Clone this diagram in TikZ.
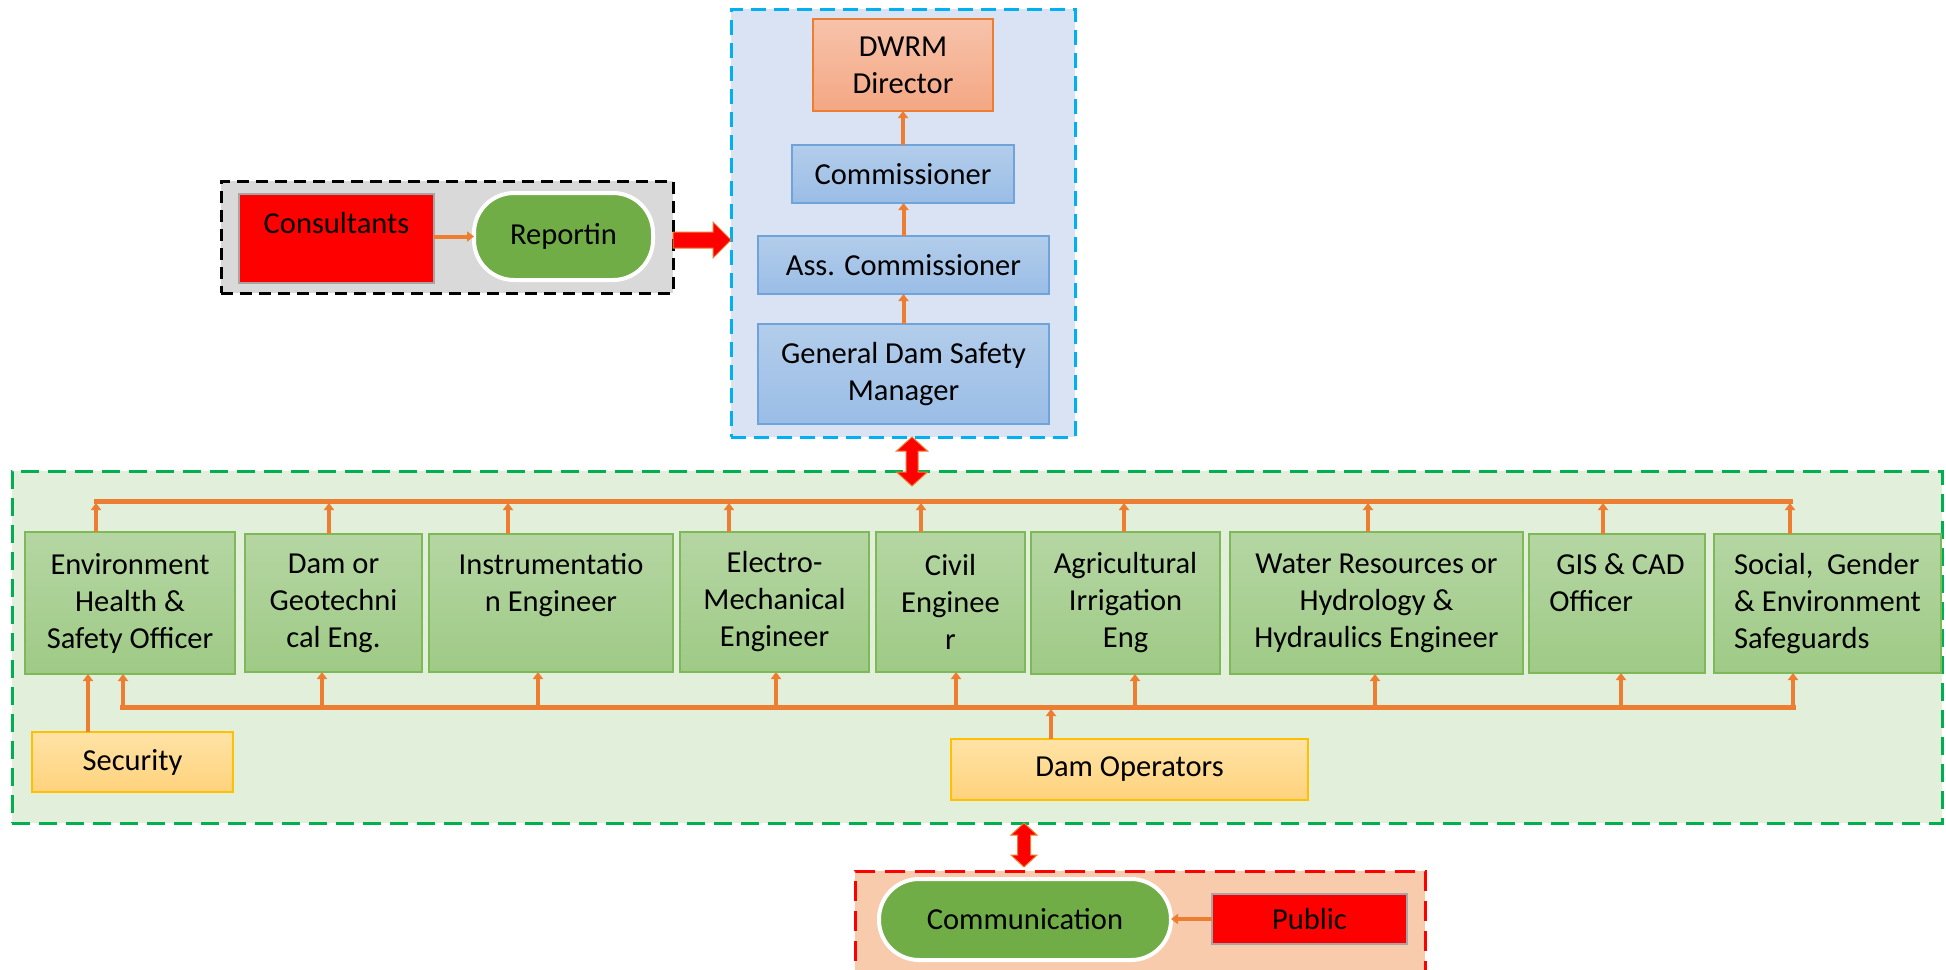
\documentclass[tikz,border=0pt]{standalone}
\usepackage{fontspec}
\setmainfont{Carlito}
\usetikzlibrary{arrows.meta,calc}
\definecolor{orng}{HTML}{ED7D31}
\definecolor{grnfill}{HTML}{E2EFDA}
\definecolor{grndash}{HTML}{00B050}
\definecolor{bluefill}{HTML}{DAE3F3}
\definecolor{bluedash}{HTML}{00B0F0}
\definecolor{grayfill}{HTML}{D9D9D9}
\definecolor{redfill}{HTML}{F8CBAD}
\definecolor{gtop}{HTML}{B5D6A3}
\definecolor{gbot}{HTML}{9FCA86}
\definecolor{gline}{HTML}{7DB957}
\definecolor{btop}{HTML}{B3CDEB}
\definecolor{bbot}{HTML}{9ABDE6}
\definecolor{bline}{HTML}{6EA3DC}
\definecolor{otop}{HTML}{F7C3AB}
\definecolor{obot}{HTML}{F4A783}
\definecolor{ytop}{HTML}{FFE3A6}
\definecolor{ybot}{HTML}{FFD27C}
\definecolor{yline}{HTML}{FFC000}
\definecolor{stadgrn}{HTML}{70AD47}
\definecolor{redline}{HTML}{A5A5A5}
\newcommand\myvdarrow[6]{% x, ytop, ybot, head half width, head length, shaft half width
  \filldraw[bigarrow] (#1,#2) -- (#1+#4,#2+#5) -- (#1+#6,#2+#5) -- (#1+#6,#3-#5) -- (#1+#4,#3-#5) -- (#1,#3)
   -- (#1-#4,#3-#5) -- (#1-#6,#3-#5) -- (#1-#6,#2+#5) -- (#1-#4,#2+#5) -- cycle;}
\begin{document}
\begin{tikzpicture}[x=1pt,y=-1pt,
  every node/.style={font=\fontsize{30.5}{37}\selectfont, inner sep=0pt, outer sep=0pt},
  box/.style={draw, line width=1.5pt, align=center, anchor=north west},
  gbox/.style={box, draw=gline, top color=gtop, bottom color=gbot},
  bbox/.style={box, draw=bline, top color=btop, bottom color=bbot},
  obox/.style={box, draw=orng, top color=otop, bottom color=obot},
  ybox/.style={box, draw=yline, top color=ytop, bottom color=ybot},
  rbox/.style={box, draw=redline, fill=red},
  stad/.style={box, draw=white, line width=4pt, fill=stadgrn, rounded corners=40pt},
  cont/.style={anchor=north west, line width=3pt},
  conn/.style={draw=orng, line width=4pt, -{Triangle[width=10pt,length=7pt]}},
  bus/.style={draw=orng, line width=5pt},
  bigarrow/.style={fill=red, draw=orng, line width=1pt}
]
\useasboundingbox (0,0) rectangle (1946,969);
\clip (0,0) rectangle (1946,969);

% containers
\node[cont, draw=bluedash, fill=bluefill, dash pattern=on 15pt off 8pt, minimum width=344, minimum height=428] (blue) at (731,9) {};
\node[cont, draw=black, fill=grayfill, dash pattern=on 12pt off 7pt, minimum width=452, minimum height=112] (gray) at (221,181) {};
\node[cont, draw=grndash, fill=grnfill, dash pattern=on 18pt off 9pt, minimum width=1930, minimum height=352] (green) at (12,471) {};
\node[cont, draw=red, fill=redfill, dash pattern=on 20pt off 10pt, minimum width=570, minimum height=140] (redc) at (855,871) {};

% top hierarchy
\node[obox, minimum width=180, minimum height=92] (dwrm) at (813,19) {DWRM\\Director};
\node[bbox, minimum width=222, minimum height=58] (comm) at (792,145) {Commissioner};
\node[bbox, minimum width=291, minimum height=58] (ass) at (758,236) {Ass. Commissioner};
\node[bbox, minimum width=291, minimum height=100] (gdsm) at (758,324) {General Dam Safety\\Manager};
\draw[conn] (comm.north) -- (comm.north |- dwrm.south);
\draw[conn] (ass.north) -- (ass.north |- comm.south);
\draw[conn] (gdsm.north) -- (ass.south);

% consultants group
\node[rbox, minimum width=195, text height=39pt, text depth=50pt] (cons) at (239,194) {Consultants};
\node[stad, minimum width=179, minimum height=87] (rep) at (474,193) {Reportin};
\draw[conn] (cons.east |- rep.west) -- (rep.west);
\filldraw[bigarrow] (gray.east |- 0,232) -- (713,232) -- (713,222) -- (blue.west |- 0,240) -- (713,258) -- (713,248) -- (gray.east |- 0,248) -- cycle;

% staff row
\node[gbox, minimum width=210, minimum height=142] (b1) at (25,532) {Environment\\Health \&\\Safety Officer};
\node[gbox, minimum width=177, minimum height=138] (b2) at (245,534) {Dam or\\Geotechni\\cal Eng.};
\node[gbox, minimum width=244, minimum height=138] (b3) at (429,534) {Instrumentatio\\n Engineer\\\vphantom{y}};
\node[gbox, minimum width=189, minimum height=140] (b4) at (680,532) {Electro-\\Mechanical\\Engineer};
\node[gbox, minimum width=149, minimum height=140] (b5) at (876,532) {Civil\\Enginee\\r};
\node[gbox, minimum width=189, minimum height=142] (b6) at (1031,532) {Agricultural\\Irrigation\\Eng};
\node[gbox, minimum width=293, minimum height=142] (b7) at (1230,532) {Water Resources or\\Hydrology \&\\Hydraulics Engineer};
\node[gbox, align=left, minimum width=176, minimum height=139] (b8) at (1529,534) {\hspace{7pt}GIS \& CAD\\Officer\\\vphantom{y}};
\node[gbox, align=left, minimum width=227, minimum height=139] (b9) at (1714,534) {Social,~~Gender\\\& Environment\\Safeguards};

\node[ybox, minimum width=201, minimum height=60] (sec) at (32,732) {Security};
\node[ybox, minimum width=357, minimum height=61] (ops) at (951,739) {Dam Operators};

% buses
\coordinate (tbL) at (94,501);
\coordinate (tbR) at (1793,501);
\coordinate (ubL) at (120,707);
\coordinate (ubR) at (1796,707);
\draw[bus] (tbL) -- (tbR);
\draw[bus] (ubL) -- (ubR);
\foreach \i/\x in {1/96,2/329,3/508,4/729,5/921,6/1124,7/1368,8/1603,9/1790}{
  \coordinate (t\i) at (\x,503);
  \draw[conn] (b\i.north -| t\i) -- (t\i);
}
\foreach \i/\x in {1/123,2/322,3/538,4/776,5/956,6/1135,7/1375,8/1621,9/1793}{
  \coordinate (u\i) at (\x,709);
  \draw[conn] (u\i) -- (b\i.south -| u\i);
}
\coordinate (secx) at (88,0);
\draw[conn] (sec.north -| secx) -- (b1.south -| secx);
\coordinate (opx) at (1051,709);
\draw[conn] (ops.north -| opx) -- (opx);

% double arrows
\myvdarrow{912}{437}{486}{15.5}{14}{6}
\myvdarrow{1024}{823}{867}{13}{12}{6.5}

% communication group
\node[stad, minimum width=292, minimum height=81] (comn) at (879,879) {Communication};
\node[rbox, minimum width=195, minimum height=50] (pub) at (1212,894) {Public};
\draw[conn] (pub.west) -- (pub.west -| comn.east);
\end{tikzpicture}
\end{document}
